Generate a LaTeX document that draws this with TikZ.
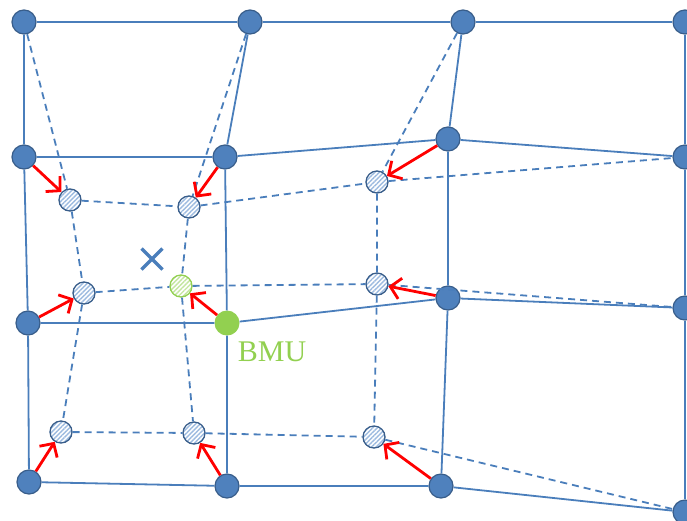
\documentclass[tikz,border=0pt]{standalone}
\usepackage{fontspec}
\setmainfont{Liberation Serif}
\usetikzlibrary{arrows.meta,patterns.meta}
\definecolor{nodeblue}{HTML}{4F81BD}
\definecolor{nodeborder}{HTML}{385D8A}
\definecolor{lineblue}{HTML}{4A7EBB}
\definecolor{hatchblue}{HTML}{9DBBE0}
\definecolor{bmugreen}{HTML}{92D050}
\definecolor{hatchgreen}{HTML}{C4E6A0}
\tikzset{
  solidnode/.style={circle,fill=nodeblue,draw=nodeborder,line width=1.2pt,minimum size=24pt,inner sep=0pt},
  bmunode/.style={circle,fill=bmugreen,draw=none,minimum size=25pt,inner sep=0pt},
  hatchnode/.style={circle,draw=nodeborder,line width=1.3pt,minimum size=22pt,inner sep=0pt,
    preaction={fill=white},pattern={Lines[angle=45,distance=3.2pt,line width=1.4pt]},pattern color=hatchblue},
  hatchgreennode/.style={circle,draw=bmugreen,line width=1.3pt,minimum size=22pt,inner sep=0pt,
    preaction={fill=white},pattern={Lines[angle=45,distance=3.2pt,line width=1.4pt]},pattern color=hatchgreen},
  gridline/.style={draw=lineblue,line width=1.8pt},
  dashline/.style={draw=lineblue,line width=1.8pt,dash pattern=on 7pt off 5pt},
  movearrow/.style={draw=red,line width=2.8pt,-{Straight Barb[length=10pt,width=21pt,line width=2.8pt]}},
}
\begin{document}
\begin{tikzpicture}[x=1pt,y=-1pt]
\useasboundingbox (0,0) rectangle (687,520);
% original grid nodes
\node[solidnode] (a1) at (24,22) {};
\node[solidnode] (a2) at (250,22) {};
\node[solidnode] (a3) at (463,22) {};
\node[solidnode] (a4) at (685,22) {};
\node[solidnode] (b1) at (24,157) {};
\node[solidnode] (b2) at (225,157) {};
\node[solidnode] (b3) at (448,139) {};
\node[solidnode] (b4) at (685,157) {};
\node[solidnode] (c1) at (28,323) {};
\node[bmunode] (c2) at (227,323) {};
\node[solidnode] (c3) at (448,298) {};
\node[solidnode] (c4) at (685,308) {};
\node[solidnode] (d1) at (29,482) {};
\node[solidnode] (d2) at (227,486) {};
\node[solidnode] (d3) at (441,486) {};
\node[solidnode] (d4) at (685,512) {};
% moved nodes
\node[hatchnode] (h21) at (70,200) {};
\node[hatchnode] (h22) at (189,207) {};
\node[hatchnode] (h23) at (377,182) {};
\node[hatchnode] (h31) at (84,293) {};
\node[hatchgreennode] (h32) at (181,286) {};
\node[hatchnode] (h33) at (377,284) {};
\node[hatchnode] (h41) at (61,432) {};
\node[hatchnode] (h42) at (194,433) {};
\node[hatchnode] (h43) at (374,437) {};
% solid grid lines
\path[gridline] (a1) -- (a2) -- (a3) -- (a4);
\path[gridline] (b1) -- (b2) -- (b3) -- (b4);
\path[gridline] (c1) -- (c2) -- (c3) -- (c4);
\path[gridline] (d1) -- (d2) -- (d3) -- (d4);
\path[gridline] (a1) -- (b1) -- (c1) -- (d1);
\path[gridline] (a2) -- (b2) -- (c2) -- (d2);
\path[gridline] (a3) -- (b3) -- (c3) -- (d3);
\path[gridline] (a4) -- (b4) -- (c4) -- (d4);
% dashed updated grid
\path[dashline] (a1) -- (h21);
\path[dashline] (a2) -- (h22);
\path[dashline] (a3) -- (h23);
\path[dashline] (h21) -- (h22) -- (h23) -- (b4);
\path[dashline] (h31) -- (h32) -- (h33) -- (c4);
\path[dashline] (h41) -- (h42) -- (h43) -- (d4);
\path[dashline] (h21) -- (h31) -- (h41);
\path[dashline] (h22) -- (h32) -- (h42);
\path[dashline] (h23) -- (h33) -- (h43);
% movement arrows
\path[movearrow] (b1) -- (h21);
\path[movearrow] (b2) -- (h22);
\path[movearrow] (b3) -- (h23);
\path[movearrow] (c1) -- (h31);
\path[movearrow] (c2) -- (h32);
\path[movearrow] (c3) -- (h33);
\path[movearrow] (d1) -- (h41);
\path[movearrow] (d2) -- (h42);
\path[movearrow] (d3) -- (h43);
% input sample
\coordinate (x) at (152,259);
\draw[lineblue,line width=3.4pt] ([shift={(-10.5,-10.5)}]x) -- ([shift={(10.5,10.5)}]x);
\draw[lineblue,line width=3.4pt] ([shift={(-10.5,10.5)}]x) -- ([shift={(10.5,-10.5)}]x);
% label
\node[text=bmugreen,font=\fontsize{30}{35}\selectfont,inner sep=0pt] (bmu) at (272,352) {BMU};
\end{tikzpicture}
\end{document}
